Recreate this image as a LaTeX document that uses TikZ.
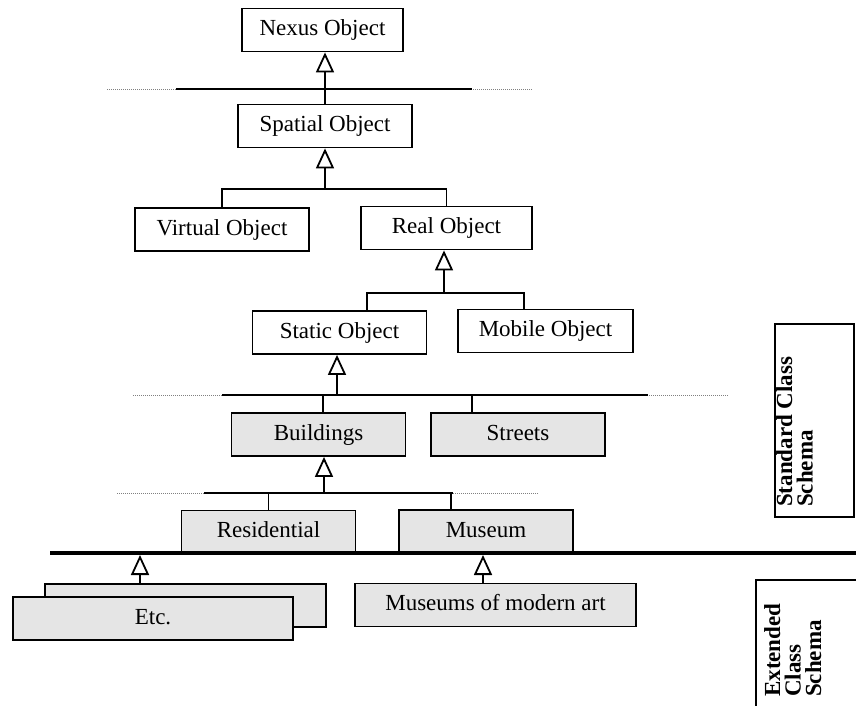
\documentclass[tikz,border=0pt]{standalone}
\usepackage{fontspec}
\setmainfont{Liberation Serif}
\usetikzlibrary{arrows.meta}
\begin{document}
\begin{tikzpicture}[x=1pt,y=-1pt,
  cls/.style={draw, line width=1.8pt, minimum width=174pt, minimum height=43pt, inner sep=0pt, text height=16pt, text depth=5pt, font=\fontsize{23}{27}\selectfont},
  ext/.style={cls, fill=gray!20},
  link/.style={line width=1.8pt},
  isa/.style={line width=1.8pt, -{Triangle[open,length=20pt,width=18pt]}},
  layer/.style={line width=0.8pt, gray, dash pattern=on 1pt off 1pt},
  side/.style={rotate=90, anchor=north west, inner sep=0pt, align=left, font=\fontsize{23}{20.5}\selectfont\bfseries}]
  \useasboundingbox (0,0) rectangle (856,706);
  % layer separators
  \draw[layer] (107,89) -- (533,89);
  \draw[link] (176,89) -- (472,89);
  \draw[layer] (133,395) -- (728,395);
  \draw[link] (222,395) -- (648,395);
  \draw[layer] (117,493) -- (538,493);
  \draw[link] (204,493) -- (453,493);
  % standard classes
  \node[cls, minimum width=161pt] (nexus) at (322.5,30) {Nexus Object};
  \node[cls] (spatial) at (325,126) {Spatial Object};
  \node[cls] (virtual) at (222,229.5) {Virtual Object};
  \node[cls, minimum width=171pt] (real) at (446.5,228) {Real Object};
  \node[cls] (static) at (339.5,332.5) {Static Object};
  \node[cls, minimum width=175pt] (mobile) at (545.5,331) {Mobile Object};
  \node[ext] (buildings) at (318.5,434.5) {Buildings};
  \node[ext] (streets) at (518,434.5) {Streets};
  \node[ext] (residential) at (268.5,532) {Residential};
  \node[ext] (museum) at (486,531.5) {Museum};
  % extended classes
  \node[ext, minimum width=281pt] (modern) at (495.5,605) {Museums of modern art};
  \node[ext, minimum width=281pt] (etcback) at (185.5,605.5) {};
  \node[ext, minimum width=280pt] (etc) at (153,618.5) {Etc.};
  \coordinate (base) at (50,553);
  \draw[line width=4pt] (base) -- (870,553);
  % inheritance
  \draw[isa] (spatial.north) -- (spatial.north |- nexus.south);
  \coordinate (b1) at (325,189);
  \draw[link] (virtual.north) |- (b1) -| (real.north);
  \draw[isa] (b1) -- (spatial.south);
  \coordinate (b2) at (444,293);
  \draw[link] ([xshift=27.5pt]static.north) |- (b2) -| ([xshift=-21.5pt]mobile.north);
  \draw[isa] (b2) -- (b2 |- real.south);
  \coordinate (b3) at (337,395);
  \draw[isa] (b3) -- (b3 |- static.south);
  \draw[link] ([xshift=4.5pt]buildings.north) -- ([xshift=4.5pt]buildings.north |- b3);
  \draw[link] ([xshift=-46pt]streets.north) -- ([xshift=-46pt]streets.north |- b3);
  \coordinate (b4) at (324,493);
  \draw[isa] (b4) -- (b4 |- buildings.south);
  \draw[link] (residential.north) -- (residential.north |- b4);
  \draw[link] ([xshift=-35pt]museum.north) -- ([xshift=-35pt]museum.north |- b4);
  \draw[isa] ([xshift=-45.5pt]etcback.north) -- ([xshift=-45.5pt,yshift=-2pt]etcback.north |- base);
  \draw[isa] ([xshift=-12.5pt]modern.north) -- ([xshift=-12.5pt,yshift=-2pt]modern.north |- base);
  % schema labels
  \node[draw, line width=1.8pt, minimum width=79pt, minimum height=193pt, inner sep=0pt] (stdbox) at (814.5,420.5) {};
  \node[side] (stdlabel) at (776,507) {Standard Class\\Schema};
  \node[draw, line width=1.8pt, minimum width=120pt, minimum height=150pt, inner sep=0pt] (extbox) at (816,655) {};
  \node[side] (extlabel) at (764,697) {Extended\\Class\\Schema};
\end{tikzpicture}
\end{document}
